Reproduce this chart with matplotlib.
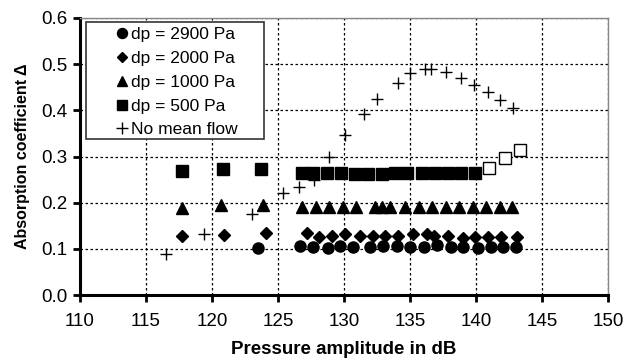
import matplotlib
matplotlib.use("Agg")
import matplotlib.pyplot as plt
from matplotlib.patches import Rectangle

plt.rcParams['font.family'] = ['Liberation Sans', 'DejaVu Sans']

# dp = 2900 Pa
x2900 = [123.5, 126.67, 127.65, 128.79, 129.70, 130.68, 131.97, 132.95, 134.02, 135.0,
         136.06, 137.05, 138.11, 139.02, 140.15, 141.14, 142.05, 143.03]
y2900 = [0.102, 0.107, 0.105, 0.101, 0.107, 0.104, 0.103, 0.107, 0.107, 0.105,
         0.104, 0.108, 0.103, 0.104, 0.101, 0.103, 0.103, 0.103]
# dp = 2000 Pa
x2000 = [117.75, 120.9, 124.1, 127.2, 128.1, 129.07, 130.1, 131.2, 132.2, 133.1, 134.1,
         135.25, 136.3, 136.8, 137.9, 139.0, 139.9, 140.9, 141.9, 143.1]
y2000 = [0.127, 0.131, 0.135, 0.135, 0.126, 0.128, 0.132, 0.128, 0.128, 0.128, 0.128,
         0.132, 0.133, 0.128, 0.128, 0.123, 0.126, 0.126, 0.126, 0.126]
# dp = 1000 Pa
x1000 = [117.7, 120.66, 123.9, 126.8, 127.9, 128.9, 129.9, 130.9, 132.35, 132.9, 133.5,
         134.6, 135.7, 136.7, 137.7, 138.7, 139.75, 140.75, 141.8, 142.75]
y1000 = [0.188, 0.196, 0.196, 0.19, 0.19, 0.19, 0.19, 0.19, 0.19, 0.19, 0.19,
         0.19, 0.19, 0.19, 0.19, 0.19, 0.19, 0.19, 0.19, 0.19]
# dp = 500 Pa
x500 = [117.7, 120.8, 123.7, 126.8, 127.65, 128.7, 129.77, 130.8, 131.8, 132.9, 133.86,
        134.8, 135.9, 136.9, 137.9, 138.9, 139.9]
y500 = [0.268, 0.273, 0.272, 0.265, 0.265, 0.264, 0.264, 0.263, 0.262, 0.263, 0.264,
        0.265, 0.264, 0.265, 0.265, 0.265, 0.265]
# dp = 500 Pa, open symbols
x500o = [140.98, 142.2, 143.3]
y500o = [0.276, 0.296, 0.313]
# No mean flow
xnf = [116.5, 119.4, 123.0, 125.35, 126.6, 127.7, 128.9, 130.1, 131.5, 132.5, 134.1,
       135.0, 136.1, 136.6, 137.7, 138.9, 139.85, 140.9, 141.8, 142.8]
ynf = [0.088, 0.133, 0.175, 0.22, 0.233, 0.249, 0.30, 0.346, 0.393, 0.425, 0.46,
       0.48, 0.489, 0.489, 0.482, 0.469, 0.454, 0.44, 0.422, 0.406]

xticks = [110, 115, 120, 125, 130, 135, 140, 145, 150]
yticks = [0.0, 0.1, 0.2, 0.3, 0.4, 0.5, 0.6]

fig = plt.figure(figsize=(6.33, 3.6), dpi=100)
ax = fig.add_axes([80/633, (360-295)/360, (608-80)/633, (295-18)/360])

ax.plot(x2900, y2900, 'o', color='black', ms=8, ls='none', label='dp = 2900 Pa', zorder=3)
ax.plot(x2000, y2000, 'D', color='black', ms=6, ls='none', label='dp = 2000 Pa', zorder=3)
ax.plot(x1000, y1000, '^', color='black', ms=8, ls='none', label='dp = 1000 Pa', zorder=3)
ax.plot(x500, y500, 's', color='black', ms=8, ls='none', label='dp = 500 Pa', zorder=3)
ax.plot(xnf, ynf, '+', color='black', ms=9, mew=1.0, ls='none', label='No mean flow', zorder=3)
ax.plot(x500o, y500o, 's', mfc='white', mec='black', ms=8, mew=1.0, ls='none', zorder=3)

ax.set_xlim(110, 150)
ax.set_ylim(0, 0.6)
ax.set_xticks(xticks)
ax.set_yticks(yticks)
ax.set_xticklabels([str(t) for t in xticks])
ax.set_yticklabels(['%.1f' % t for t in yticks])
ax.grid(True, color='black', ls=(0, (2, 2)), lw=0.9)
ax.set_axisbelow(True)

for s in ['left', 'bottom']:
    ax.spines[s].set_linewidth(2.2)
    ax.spines[s].set_color('black')
for s in ['top', 'right']:
    ax.spines[s].set_linewidth(1.0)
    ax.spines[s].set_color('#888888')
ax.tick_params(axis='both', direction='out', length=5, width=2, labelsize=13.5, pad=4)
ax.tick_params(axis='x', pad=8)

ax.set_xlabel('Pressure amplitude in dB', fontsize=13.5, fontweight='bold', labelpad=8)
ax.set_ylabel('Absorption coefficient Δ', fontsize=11.5, fontweight='bold', labelpad=8)

# legend frame (white box)
box = Rectangle((6/528, (295-139)/277), (264-86)/528, (139-22)/277,
                transform=ax.transAxes, facecolor='white', edgecolor='#333333',
                lw=1.2, zorder=2.5)
ax.add_patch(box)

leg = ax.legend(loc='upper left', bbox_to_anchor=((113-80)/528, (295-27)/277), fontsize=12.5,
                frameon=False, handlelength=1.0, handletextpad=0.05, borderpad=0.0,
                borderaxespad=0.0, labelspacing=0.5, markerscale=0.9)
leg.set_zorder(4)

fig.savefig('out.png', dpi=100)
